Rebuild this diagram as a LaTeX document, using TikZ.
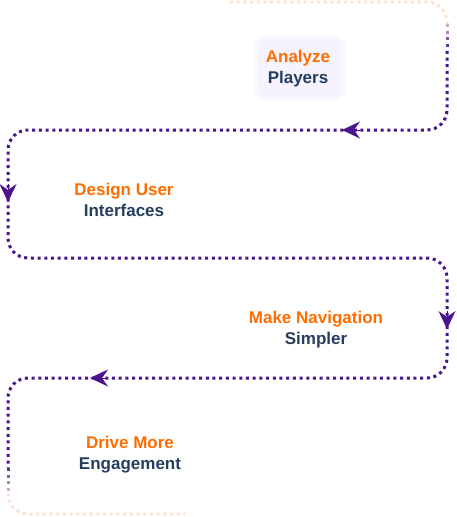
\documentclass[tikz,border=0pt]{standalone}
\usepackage{fontspec}
\setmainfont{Liberation Sans}
\usepackage{tikz}
\usetikzlibrary{arrows.meta}
\definecolor{flowpurple}{HTML}{4A148C}
\definecolor{flowpeach}{HTML}{FDE2D2}
\definecolor{steporange}{HTML}{FF6D00}
\definecolor{stepnavy}{HTML}{253E5F}
\definecolor{boxfill}{HTML}{F7F3FE}
\definecolor{boxglow}{HTML}{FAF8FE}

\begin{document}
\begin{tikzpicture}[x=1pt, y=-1pt,
  flow/.style={line width=3pt, dash pattern=on 3pt off 3.7pt, rounded corners=20pt},
  flowtip/.style={flowpurple, fill=flowpurple, line width=1pt, -{Stealth[length=18pt, width=17pt, inset=6pt]}},
  steptext/.style={align=center, inner sep=0pt, font=\fontsize{17}{21}\selectfont\bfseries},
  stepbox/.style={fill=boxfill, draw=boxglow, line width=3pt, rounded corners=10pt, minimum width=88pt, minimum height=62pt}]
  \useasboundingbox (0,0) rectangle (456,517);
  \coordinate (start) at (230,2);
  \coordinate (tr) at (447,2);
  \coordinate (fadetop) at (447,24);
  \coordinate (r0) at (447,50.8);
  \coordinate (r1) at (447,130);
  \coordinate (l1) at (8,130);
  \coordinate (l2) at (8,258);
  \coordinate (r2) at (447,258);
  \coordinate (r3) at (447,378);
  \coordinate (l3) at (8,378);
  \coordinate (l4) at (8,468);
  \coordinate (fadebot) at (8,494.8);
  \coordinate (bl) at (8,514);
  \coordinate (end) at (185,514);
  \coordinate (a1) at (342,130);
  \coordinate (a2) at (8,202);
  \coordinate (a3) at (447,329);
  \coordinate (a4) at (90,378);
  \node (analyze) at (300,68) [stepbox] {};
  \draw[flow, flowpeach] (start) -- (tr) -- (fadetop);
  \foreach \i/\c in {0/25, 1/45, 2/65, 3/85}
    \draw[flow, flowpurple!\c!flowpeach] ([yshift={-\i*6.7pt}]fadetop) -- ++(0,6.7);
  \draw[flow, flowpurple] (r0) -- (r1) -- (l1) -- (l2) -- (r2) -- (r3) -- (l3) -- (l4);
  \foreach \i/\c in {0/85, 1/65, 2/45, 3/25}
    \draw[flow, flowpurple!\c!flowpeach] ([yshift={-\i*6.7pt}]l4) -- ++(0,6.7);
  \draw[flow, flowpeach] (fadebot) -- (bl) -- (end);
  \draw[flowtip] ([xshift=18pt]a1) -- (a1);
  \draw[flowtip] ([yshift=18pt]a2) -- (a2);
  \draw[flowtip] ([yshift=18pt]a3) -- (a3);
  \draw[flowtip] ([xshift=18pt]a4) -- (a4);
  \node (players) at (298,69) [steptext] {\textcolor{steporange}{Analyze}\\\textcolor{stepnavy}{Players}};
  \node (design) at (124,199.5) [steptext] {\textcolor{steporange}{Design User}\\\textcolor{stepnavy}{Interfaces}};
  \node (navigation) at (316,330) [steptext] {\textcolor{steporange}{Make Navigation}\\\textcolor{stepnavy}{Simpler}};
  \node (engagement) at (130,455) [steptext] {\textcolor{steporange}{Drive More}\\\textcolor{stepnavy}{Engagement}};
\end{tikzpicture}
\end{document}
